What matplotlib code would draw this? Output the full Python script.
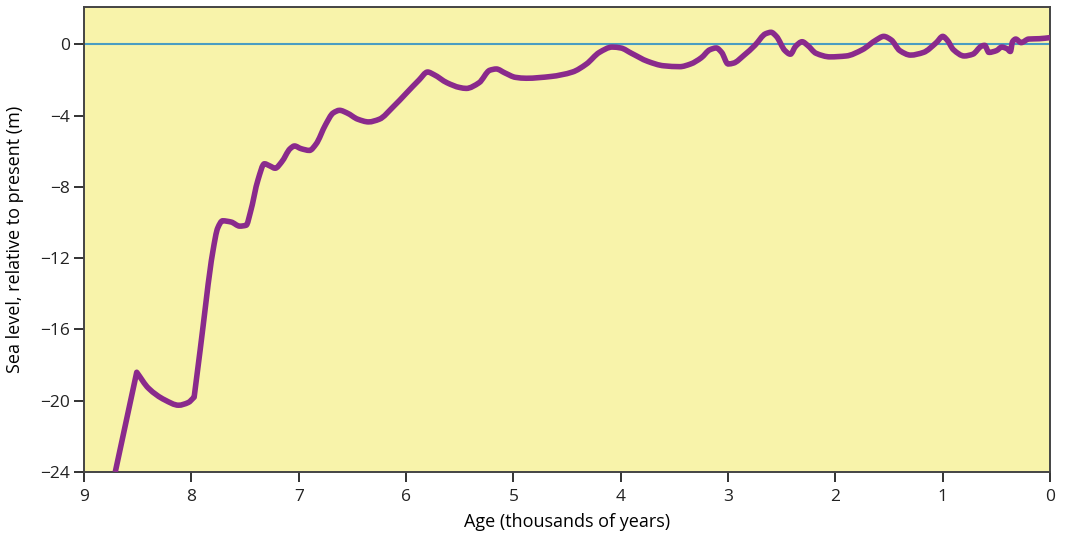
import matplotlib
matplotlib.use("Agg")
import matplotlib.pyplot as plt
import numpy as np
from matplotlib.path import Path
from matplotlib.patches import PathPatch

# values
ages = [
    8.71, 8.51, 8.40, 8.25, 8.12, 8.03, 7.975, 7.92, 7.80, 7.755, 7.71, 7.63,
    7.55, 7.49, 7.45, 7.38, 7.32, 7.27, 7.22, 7.16, 7.08, 7.04, 6.98, 6.90,
    6.84, 6.75, 6.68, 6.62, 6.55, 6.45, 6.35, 6.25, 6.12, 6.00, 5.88, 5.80,
    5.74, 5.62, 5.50, 5.44, 5.32, 5.22, 5.16, 5.08, 4.98, 4.88, 4.65, 4.45,
    4.32, 4.20, 4.08, 4.00, 3.90, 3.75, 3.60, 3.45, 3.35, 3.25, 3.17, 3.11,
    3.06, 3.00, 2.95, 2.85, 2.75, 2.65, 2.60, 2.55, 2.47, 2.42, 2.37, 2.31,
    2.26, 2.18, 2.05, 1.90, 1.75, 1.62, 1.55, 1.48, 1.40, 1.30, 1.18, 1.06,
    1.00, 0.96, 0.90, 0.80, 0.72, 0.64, 0.61, 0.57, 0.50, 0.45, 0.40, 0.37,
    0.35, 0.32, 0.27, 0.20, 0.10, 0.00,
]
sea_level = [
    -24.0, -18.4, -19.3, -19.95, -20.25, -20.1, -19.8, -17.2, -11.6, -10.3,
    -9.9, -9.97, -10.2, -10.15, -9.4, -7.6, -6.7, -6.82, -6.95, -6.6, -5.85,
    -5.7, -5.85, -5.95, -5.6, -4.5, -3.85, -3.7, -3.85, -4.2, -4.35, -4.2,
    -3.5, -2.75, -2.0, -1.55, -1.7, -2.15, -2.42, -2.47, -2.15, -1.45, -1.38,
    -1.6, -1.85, -1.9, -1.8, -1.55, -1.1, -0.45, -0.15, -0.2, -0.5, -0.95,
    -1.2, -1.25, -1.1, -0.75, -0.3, -0.2, -0.45, -1.1, -1.05, -0.6, -0.05,
    0.6, 0.68, 0.45, -0.35, -0.55, -0.1, 0.15, -0.05, -0.5, -0.7, -0.65,
    -0.3, 0.25, 0.45, 0.25, -0.35, -0.6, -0.45, 0.1, 0.45, 0.25, -0.3,
    -0.65, -0.55, -0.1, -0.05, -0.45, -0.35, -0.15, -0.25, -0.4, 0.15, 0.3,
    0.1, 0.3, 0.32, 0.38,
]
# sharp kinks in the curve (ages)
corners = [8.51, 7.975]
x_ticks = [9, 8, 7, 6, 5, 4, 3, 2, 1, 0]
y_ticks = [0, -4, -8, -12, -16, -20, -24]


def smooth_path(xs, ys, kinks):
    """bezier path through the points, pchip-like slopes, kinks kept sharp"""
    x = np.asarray(xs, float)
    y = np.asarray(ys, float)
    h = np.diff(x)
    sec = np.diff(y) / h
    n = len(x)
    s_in = np.zeros(n)
    s_out = np.zeros(n)
    for i in range(n):
        if i == 0 or i == n - 1:
            s = sec[0] if i == 0 else sec[-1]
            s_in[i] = s_out[i] = s
            continue
        a, b = sec[i - 1], sec[i]
        if any(abs(x[i] - k) < 1e-9 for k in kinks):
            s_in[i], s_out[i] = a, b
            continue
        if a * b <= 0:
            s = 0.0
        else:
            w1 = 2 * h[i] + h[i - 1]
            w2 = h[i] + 2 * h[i - 1]
            s = (w1 + w2) / (w1 / a + w2 / b)
        s_in[i] = s_out[i] = s
    verts = [(x[0], y[0])]
    codes = [Path.MOVETO]
    for i in range(n - 1):
        d = h[i] / 3
        verts += [(x[i] + d, y[i] + s_out[i] * d),
                  (x[i + 1] - d, y[i + 1] - s_in[i + 1] * d),
                  (x[i + 1], y[i + 1])]
        codes += [Path.CURVE4] * 3
    return Path(verts, codes)


plt.rcParams["font.family"] = ["Open Sans", "DejaVu Sans"]

fig = plt.figure(figsize=(10.65, 5.37), dpi=100)
ax = fig.add_axes([0.079, 0.121, 0.907, 0.866])
ax.set_facecolor("#f8f3aa")

ax.axhline(0, color="#4a9dc2", linewidth=1.5, zorder=2)
curve = PathPatch(smooth_path(ages, sea_level, corners), facecolor="none",
                  edgecolor="#8a2a8c", linewidth=4.0, joinstyle="round",
                  capstyle="butt", zorder=3, transform=ax.transData)
ax.add_patch(curve)

ax.set_xlim(9, 0)
ax.set_ylim(-24, 2.1)
ax.set_xticks(x_ticks)
ax.set_yticks(y_ticks)
ax.set_yticklabels([str(t).replace("-", "\u2212") for t in y_ticks])
ax.tick_params(direction="out", length=7, width=1.3, labelsize=12.5,
               colors="#222222", pad=3)
ax.tick_params(axis="x", pad=5)
for side in ax.spines.values():
    side.set_color("#444444")
    side.set_linewidth(1.4)

ax.set_xlabel("Age (thousands of years)", fontsize=13, labelpad=6)
ax.set_ylabel("Sea level, relative to present (m)", fontsize=13, labelpad=12)

fig.savefig("out.png", dpi=100)
